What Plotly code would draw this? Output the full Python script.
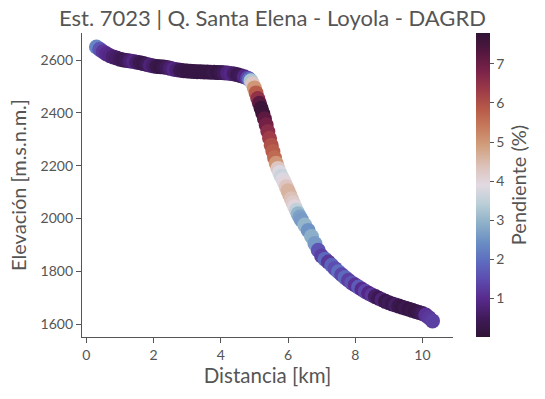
import plotly.graph_objects as go

distancia_km = [0.3, 0.4, 0.5, 0.6, 0.7, 0.8, 0.9, 1.0, 1.1, 1.2, 1.3, 1.4, 1.5, 1.6, 1.7, 1.8, 1.9,
                2.0, 2.1, 2.2, 2.3, 2.4, 2.5, 2.6, 2.7, 2.8, 2.9, 3.0, 3.1, 3.2, 3.3, 3.4, 3.5, 3.6,
                3.7, 3.8, 3.9, 4.0, 4.1, 4.2, 4.3, 4.4, 4.5, 4.6, 4.7, 4.8,
                4.85, 4.9, 4.95, 5.0, 5.05, 5.1, 5.15, 5.2, 5.25, 5.3, 5.35, 5.4, 5.45, 5.5, 5.55,
                5.6, 5.65, 5.7, 5.75, 5.8, 5.85, 5.9, 5.95, 6.0, 6.05, 6.1, 6.15, 6.2, 6.25, 6.3,
                6.35, 6.4, 6.5, 6.6, 6.7, 6.8, 6.9, 7.0,
                7.1, 7.2, 7.3, 7.4, 7.5, 7.6, 7.7, 7.8, 7.9, 8.0, 8.1, 8.2, 8.3, 8.4, 8.5, 8.6, 8.7,
                8.8, 8.9, 9.0, 9.1, 9.2, 9.3, 9.4, 9.5, 9.6, 9.7, 9.8, 9.9, 10.0, 10.1, 10.2, 10.3]

elevacion_m = [2650, 2641, 2632, 2624, 2617, 2612, 2608, 2604, 2601, 2599, 2597, 2595, 2592, 2590,
               2587, 2584, 2581, 2578, 2576, 2575, 2574, 2572, 2569, 2566, 2564, 2562, 2560, 2559,
               2558, 2557, 2556, 2556, 2555, 2555, 2554, 2554, 2553, 2553, 2552, 2551, 2550, 2548,
               2545, 2541, 2537, 2532,
               2528, 2522, 2510, 2495, 2476, 2455, 2437, 2418, 2398, 2378, 2355, 2330, 2304, 2278,
               2254, 2230, 2209, 2190, 2174, 2160, 2148, 2135, 2120, 2105, 2090, 2075, 2060, 2045,
               2031, 2018, 2006, 1995, 1975, 1955, 1932, 1905, 1880, 1858,
               1846, 1835, 1823, 1810, 1798, 1787, 1776, 1766, 1756, 1748, 1740, 1732, 1724, 1717,
               1710, 1704, 1698, 1692, 1686, 1681, 1676, 1672, 1668, 1664, 1660, 1656, 1652, 1648,
               1644, 1640, 1634, 1624, 1612]

pendiente_pct = [2.3, 1.6, 1.2, 1.0, 0.9, 0.7, 0.6, 0.5, 0.4, 0.5, 0.7, 0.9, 0.6, 0.4, 0.3, 0.5, 0.8,
                 0.6, 0.3, 0.2, 0.3, 0.5, 0.7, 0.9, 0.7, 0.4, 0.3, 0.2, 0.2, 0.2, 0.2, 0.2, 0.2, 0.2,
                 0.2, 0.3, 0.2, 0.3, 0.5, 0.8, 0.9, 0.6, 0.4, 0.5, 0.9, 1.4,
                 2.0, 3.3, 4.3, 5.0, 5.8, 6.5, 7.2, 7.6, 7.6, 7.2, 6.9, 6.6, 6.3, 6.0, 5.8,
                 5.6, 5.0, 4.3, 3.8, 3.6, 3.8, 4.0, 4.3, 4.6, 4.6, 4.4, 4.2, 4.0, 3.5, 3.0,
                 2.7, 2.6, 3.0, 2.5, 2.9, 2.6, 1.6, 1.3,
                 1.9, 1.2, 1.8, 1.5, 2.0, 1.4, 1.9, 1.3, 1.6, 1.1, 1.7, 1.0, 1.4, 0.9, 1.2, 0.6, 0.4,
                 0.8, 0.3, 0.5, 0.3, 0.6, 0.3, 0.2, 0.4, 0.2, 0.3, 0.2, 0.3, 0.5, 1.1, 1.2, 1.3]

x_ticks = [0, 2, 4, 6, 8, 10]
y_ticks = [1600, 1800, 2000, 2200, 2400, 2600]
cbar_ticks = [1, 2, 3, 4, 5, 6, 7]

twilight_shifted = [
    [0.00, "#2f1436"], [0.06, "#3f1a58"], [0.125, "#572a8c"], [0.19, "#5d4cb0"],
    [0.25, "#5d6dbf"], [0.31, "#6a8dc4"], [0.375, "#8eb1c9"], [0.44, "#bccfd7"],
    [0.50, "#e2d9e2"], [0.56, "#dcc3bb"], [0.625, "#d2a180"], [0.69, "#c67b5c"],
    [0.75, "#b75a49"], [0.81, "#9e3b48"], [0.875, "#7a2249"], [0.94, "#52173f"],
    [1.00, "#2f1436"],
]

grey = "#555555"
font = "Lato"

fig = go.Figure(go.Scatter(
    x=distancia_km, y=elevacion_m, mode="markers",
    marker=dict(
        size=15, color=pendiente_pct, colorscale=twilight_shifted,
        cmin=0.01, cmax=7.79, line=dict(width=0), opacity=1,
        colorbar=dict(
            thickness=14, len=1.0, lenmode="fraction", y=0.5, yanchor="middle",
            x=1.063, xanchor="left", xpad=0, ypad=0, outlinewidth=0,
            tickvals=cbar_ticks, ticks="outside", ticklen=4, tickcolor=grey,
            tickfont=dict(family=font, size=14, color=grey),
            title=dict(text="Pendiente (%)", side="right",
                       font=dict(family=font, size=20, color=grey)),
        ),
    ),
    showlegend=False,
))

axis_common = dict(
    showgrid=False, zeroline=False, showline=True, linecolor=grey, linewidth=1.2,
    ticks="outside", ticklen=5, tickcolor=grey, tickwidth=1, automargin=False,
    tickfont=dict(family=font, size=14, color=grey),
)

fig.update_layout(
    width=545, height=399,
    margin=dict(l=82, r=92, t=33, b=62, autoexpand=False),
    plot_bgcolor="white", paper_bgcolor="white",
    title=dict(text="Est. 7023 | Q. Santa Elena - Loyola - DAGRD", x=0.5, xref="container",
               xanchor="center", y=0.955, yanchor="middle", yref="container",
               font=dict(family=font, size=22, color=grey)),
    xaxis=dict(range=[-0.13, 10.91], tickvals=x_ticks,
               title=dict(text="Distancia [km]", font=dict(family=font, size=20.5, color=grey),
                          standoff=6),
               **axis_common),
    yaxis=dict(range=[1551, 2703], tickvals=y_ticks,
               title=dict(text="Elevación [m.s.n.m.]", font=dict(family=font, size=20, color=grey),
                          standoff=8),
               **axis_common),
)

fig.write_html("out.html", config={"displayModeBar": False},
               post_script="document.body.style.margin='0';")
